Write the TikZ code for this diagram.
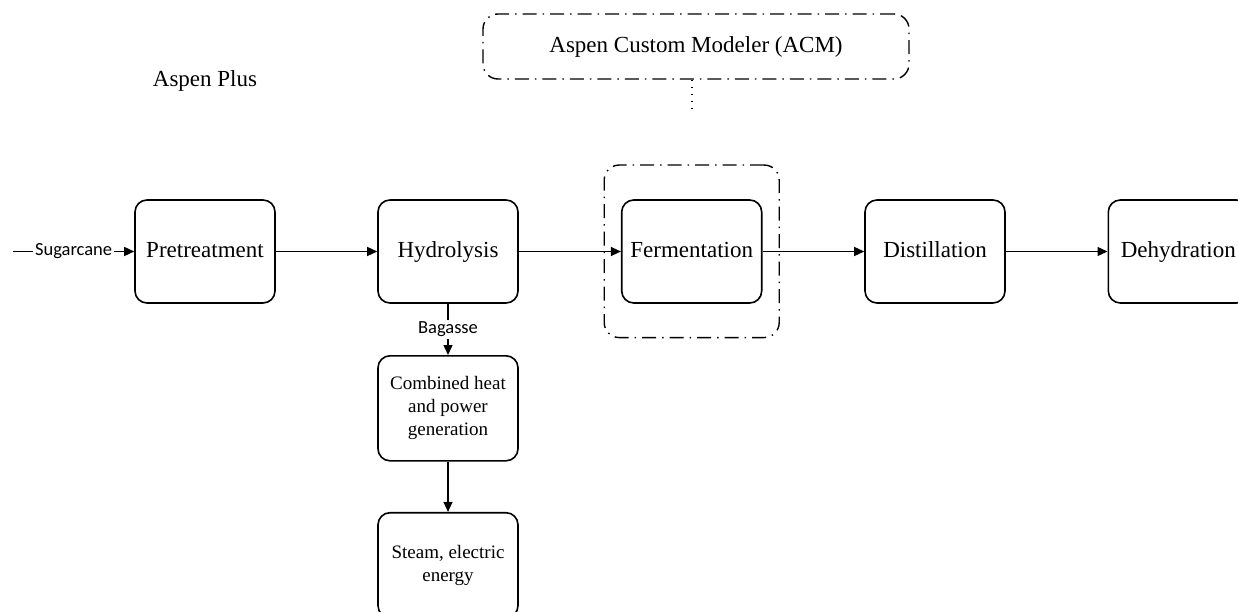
\documentclass[tikz,border=0pt]{standalone}
\usepackage{fontspec}
\setmainfont{Liberation Serif}
\newfontfamily\calib{Carlito}
\usetikzlibrary{arrows.meta}
\tikzset{
  proc/.style={draw, line width=1.6pt, rounded corners=12pt, minimum width=140pt, minimum height=103pt, inner sep=0pt, align=center, font=\fontsize{23}{27}\selectfont},
  onel/.style={proc, text height=16pt, text depth=4pt},
  smallproc/.style={proc, minimum height=105pt, font=\fontsize{19}{23}\selectfont},
  dashdotbox/.style={draw, line width=1.4pt, rounded corners=15pt, inner sep=0pt, dash pattern=on 14pt off 6pt on 1.5pt off 6pt},
  flow/.style={line width=1.4pt, -{Triangle[length=10pt,width=9pt]}},
  lbl/.style={font=\calib\fontsize{18.5}{20}\selectfont, fill=white, inner sep=2pt},
  plain/.style={font=\fontsize{23}{27}\selectfont, inner sep=0pt}
}
\begin{document}
\begin{tikzpicture}[x=1pt,y=-1pt]
\clip (0,0) rectangle (1238,612);
\fill[white] (0,0) rectangle (1238,612);
\node[plain] (ap) at (205,81) {Aspen Plus};
\node[dashdotbox, minimum width=426pt, minimum height=65pt, font=\fontsize{23}{27}\selectfont] (acm) at (696,46.5) {Aspen Custom Modeler (ACM)};
\node[onel] (pre) at (205,251.5) {Pretreatment};
\node[onel] (hyd) at (448,251.5) {Hydrolysis};
\node[onel] (fer) at (691.7,251.5) {Fermentation};
\node[onel] (dis) at (935,251.5) {Distillation};
\node[onel] (deh) at (1178.3,251.5) {Dehydration};
\node[dashdotbox, minimum width=175pt, minimum height=172.5pt] (zone) at (691.7,251.3) {};
\node[smallproc] (chp) at (448,408.3) {Combined heat\\and power\\generation};
\node[smallproc] (stm) at (448,565.2) {Steam, electric\\energy};
\coordinate (src) at (13,251.5);
\coordinate (dotend) at (691.7,108);
\draw[flow] (src) -- node[lbl] {Sugarcane} (pre.west);
\draw[flow] (pre.east) -- (hyd.west);
\draw[flow] (hyd.east) -- (fer.west);
\draw[flow] (fer.east) -- (dis.west);
\draw[flow] (dis.east) -- (deh.west);
\draw[flow] (hyd.south) -- node[lbl] {Bagasse} (chp.north);
\draw[flow] (chp.south) -- (stm.north);
\draw[line width=1.6pt, dash pattern=on 1.5pt off 5.5pt] (acm.south -| dotend) -- (dotend);
\end{tikzpicture}
\end{document}
